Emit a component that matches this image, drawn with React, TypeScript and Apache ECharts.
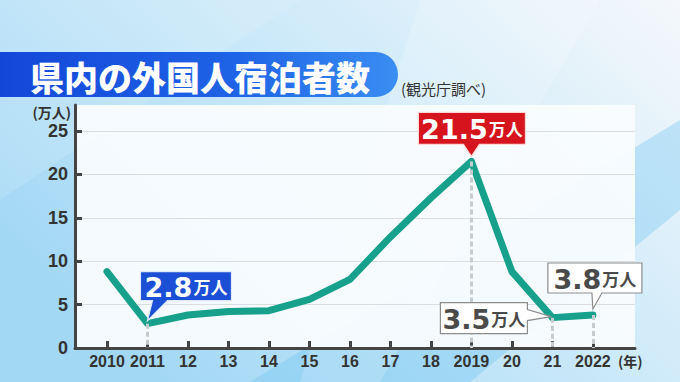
import React, { useEffect, useRef } from 'react';
import * as echarts from 'echarts';

const years = [2010, 2011, 2012, 2013, 2014, 2015, 2016, 2017, 2018, 2019, 2020, 2021, 2022];
const yearLabels = ['2010', '2011', '12', '13', '14', '15', '16', '17', '18', '2019', '20', '21', '2022'];
const guests = [8.8, 2.8, 3.8, 4.2, 4.3, 5.6, 7.9, 12.8, 17.3, 21.5, 8.8, 3.5, 3.8];
const yTicks = [0, 5, 10, 15, 20, 25];
const calloutYears = [2011, 2019, 2021, 2022];
const calloutTexts = ['2.8', '21.5', '3.5', '3.8'];
const unitText = '万人';
const titleText = '県内の外国人宿泊者数';
const sourceText = '(観光庁調べ)';
const yUnitText = '(万人)';
const xUnitText = '(年)';

const CJK = "'Noto Sans CJK JP', 'Noto Sans', sans-serif";
const NUM = "'Liberation Sans', 'Noto Sans CJK JP', sans-serif";
const BIG = "'DejaVu Sans', 'Liberation Sans', sans-serif";

const calloutStyles = [
  { fill: '#1b50d6', stroke: '#dfe8fb', color: '#ffffff', dx: -7, dy: -52, w: 91, h: 29, tail: 'bottom', t1: 5, t2: 20, tipDx: 0, tipDy: -3 },
  { fill: '#d5141d', stroke: '#ffd6d6', color: '#ffffff', dx: -53, dy: -49, w: 107, h: 32, tail: 'bottom', t1: -8, t2: 8, tipDx: 0, tipDy: -5 },
  { fill: '#ffffff', stroke: '#8c8c8c', color: '#4a4a4a', dx: -112, dy: -15, w: 87, h: 31, tail: 'right', t1: -8, t2: 3, tipDx: -1, tipDy: -1 },
  { fill: '#ffffff', stroke: '#8c8c8c', color: '#4a4a4a', dx: -45, dy: -52, w: 94, h: 30, tail: 'bottom', t1: -1, t2: 9, tipDx: 0, tipDy: -6 },
];

export default function App() {
  const ref = useRef<HTMLDivElement>(null);
  useEffect(() => {
    document.body.style.margin = '0';
    const chart = echarts.init(ref.current as HTMLDivElement, null, { renderer: 'svg' });
    const valueOf = (y: number) => guests[years.indexOf(y)];
    chart.setOption({
      animation: false,
      backgroundColor: {
        type: 'linear', x: 0, y: 0.6, x2: 1, y2: 0,
        colorStops: [
          { offset: 0, color: '#a3d8f5' },
          { offset: 0.5, color: '#cbe9f9' },
          { offset: 1, color: '#f5f8fb' },
        ],
      },
      grid: {
        left: 75, right: 45, top: 105, bottom: 34,
        show: true, backgroundColor: 'rgba(249,252,254,0.94)', borderWidth: 0,
      },
      xAxis: {
        type: 'value', min: 2009.21, max: 2023.04,
        axisLine: { show: true, lineStyle: { color: '#444', width: 3 } },
        axisTick: { show: true, inside: true, length: 7, lineStyle: { color: '#444', width: 3 }, customValues: years },
        axisLabel: {
          customValues: years,
          formatter: (v: number) => yearLabels[years.indexOf(Math.round(v))] ?? '',
          color: '#333', fontSize: 16, fontWeight: 'bold', fontFamily: NUM, margin: 5,
        },
        splitLine: { show: false },
      },
      yAxis: {
        type: 'value', min: 0, max: 28, interval: 5,
        axisLine: { show: true, lineStyle: { color: '#444', width: 3 } },
        axisTick: { show: true, inside: true, length: 7, lineStyle: { color: '#444', width: 3 }, customValues: yTicks },
        axisLabel: { customValues: yTicks, color: '#333', fontSize: 18, fontWeight: 'bold', fontFamily: NUM, margin: 7 },
        splitLine: { show: true, lineStyle: { color: '#d9dee2', width: 1 } },
      },
      series: [
        {
          type: 'line',
          data: years.map((y, i) => [y, guests[i]]),
          symbol: 'none',
          z: 3,
          lineStyle: { color: '#17a08c', width: 7, join: 'round', cap: 'round' },
          markLine: {
            silent: true,
            symbol: ['none', 'none'],
            label: { show: false },
            lineStyle: { color: '#c6cbd0', width: 3, type: [5, 3] },
            data: calloutYears.map((y) => [{ coord: [y, valueOf(y)] }, { coord: [y, 0] }]),
          },
        },
      ],
    });

    const graphics: any[] = [];
    graphics.push({ type: 'polygon', z: -10, silent: true, shape: { points: [[250, 382], [470, 382], [680, 210], [680, 120]] }, style: { fill: 'rgba(110,195,240,0.35)' } });
    graphics.push({ type: 'polygon', z: -10, silent: true, shape: { points: [[420, 0], [600, 0], [380, 382], [300, 382]] }, style: { fill: 'rgba(255,255,255,0.18)' } });
    graphics.push({ type: 'polygon', z: -10, silent: true, shape: { points: [[0, 0], [300, 0], [0, 200]] }, style: { fill: 'rgba(255,255,255,0.12)' } });

    graphics.push({
      type: 'rect', z: 10, silent: true,
      shape: { x: -6, y: 52, width: 404, height: 45, r: [0, 23, 23, 0] },
      style: {
        fill: { type: 'linear', x: 0, y: 0, x2: 1, y2: 0, colorStops: [{ offset: 0, color: '#1346d8' }, { offset: 0.6, color: '#1f63e6' }, { offset: 1, color: '#3a8ef2' }] },
      },
    });
    graphics.push({
      type: 'text', z: 11, silent: true, x: 30, y: 76,
      style: { text: titleText, fill: '#ffffff', font: `900 34px ${CJK}`, align: 'left', verticalAlign: 'middle' },
    });
    graphics.push({
      type: 'text', z: 11, silent: true, x: 401, y: 88,
      style: { text: sourceText, fill: '#333', font: `15px ${CJK}`, align: 'left', verticalAlign: 'middle' },
    });
    graphics.push({
      type: 'text', z: 11, silent: true, x: 71, y: 112,
      style: { text: yUnitText, fill: '#333', font: `bold 14px ${CJK}`, align: 'right', verticalAlign: 'middle' },
    });
    graphics.push({
      type: 'text', z: 11, silent: true, x: 618, y: 361,
      style: { text: xUnitText, fill: '#333', font: `bold 14px ${CJK}`, align: 'left', verticalAlign: 'middle' },
    });

    calloutYears.forEach((y, i) => {
      const p = chart.convertToPixel({ gridIndex: 0 }, [y, valueOf(y)]) as number[];
      const s = calloutStyles[i];
      const l = p[0] + s.dx, t = p[1] + s.dy, r = l + s.w, b = t + s.h;
      let pts: number[][];
      if (s.tail === 'bottom') {
        pts = [[l, t], [r, t], [r, b], [p[0] + s.t2, b], [p[0] + s.tipDx, p[1] + s.tipDy], [p[0] + s.t1, b], [l, b]];
      } else {
        pts = [[l, t], [r, t], [r, p[1] + s.t1], [p[0] + s.tipDx, p[1] + s.tipDy], [r, p[1] + s.t2], [r, b], [l, b]];
      }
      graphics.push({
        type: 'polygon', z: 20, silent: true,
        shape: { points: pts },
        style: { fill: s.fill, stroke: s.stroke, lineWidth: 1.2, lineJoin: 'miter' },
      });
      graphics.push({
        type: 'text', z: 21, silent: true, x: l + s.w / 2, y: t + s.h / 2 + 1,
        style: {
          text: `{a|${calloutTexts[i]}}{b|${unitText}}`,
          align: 'center', verticalAlign: 'middle',
          rich: {
            a: { fill: s.color, fontSize: 27, fontWeight: 'bold', fontFamily: BIG },
            b: { fill: s.color, fontSize: 17, fontWeight: 'bold', fontFamily: CJK, padding: [0, 0, 2, 1] },
          },
        },
      });
    });

    chart.setOption({ graphic: graphics });
    return () => chart.dispose();
  }, []);
  return <div ref={ref} style={{ width: 680, height: 382 }} />;
}
